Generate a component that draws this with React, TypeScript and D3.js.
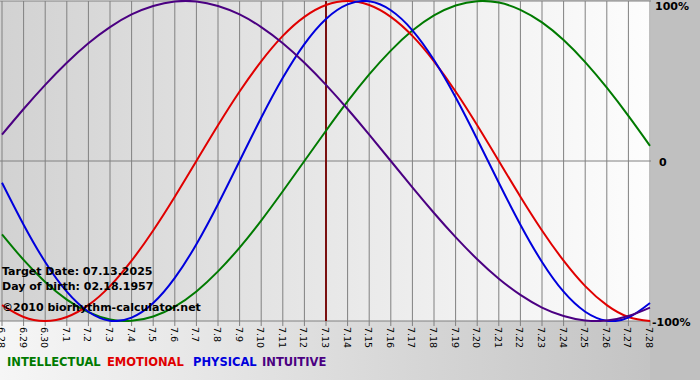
import React from "react";
import * as d3 from "d3";

const days = ["6.28","6.29","6.30","7.1","7.2","7.3","7.4","7.5","7.6","7.7","7.8","7.9","7.10","7.11","7.12","7.13","7.14","7.15","7.16","7.17","7.18","7.19","7.20","7.21","7.22","7.23","7.24","7.25","7.26","7.27","7.28"];

const physical = [-0.136,-0.398,-0.631,-0.817,-0.942,-0.998,-0.979,-0.888,-0.731,-0.520,-0.270,0,0.270,0.520,0.731,0.888,0.979,0.998,0.942,0.817,0.631,0.398,0.136,-0.136,-0.398,-0.631,-0.817,-0.942,-0.998,-0.979,-0.888];
const emotional = [-0.901,-0.975,-1,-0.975,-0.901,-0.782,-0.623,-0.434,-0.223,0,0.223,0.434,0.623,0.782,0.901,0.975,1,0.975,0.901,0.782,0.623,0.434,0.223,0,-0.223,-0.434,-0.623,-0.782,-0.901,-0.975,-1];
const intellectual = [-0.458,-0.618,-0.756,-0.866,-0.945,-0.990,-0.999,-0.972,-0.910,-0.815,-0.690,-0.541,-0.372,-0.189,0,0.189,0.372,0.541,0.690,0.815,0.910,0.972,0.999,0.990,0.945,0.866,0.756,0.618,0.458,0.282,0.095];
const intuitive = [0.165,0.325,0.476,0.614,0.736,0.837,0.916,0.969,0.997,0.997,0.969,0.916,0.837,0.736,0.614,0.476,0.325,0.165,0,-0.165,-0.325,-0.476,-0.614,-0.736,-0.837,-0.916,-0.969,-0.997,-0.997,-0.969,-0.916];

const yTicks = [1, 0, -1];
const yTickLabels = ["100%", "0", "-100%"];
const targetIndex = 15;

const series = [
  { name: "INTELLECTUAL", values: intellectual, color: "#007a00" },
  { name: "EMOTIONAL", values: emotional, color: "#e00000" },
  { name: "PHYSICAL", values: physical, color: "#0000dd" },
  { name: "INTUITIVE", values: intuitive, color: "#4b0082" },
];

const infoLines = ["Target Date: 07.13.2025", "Day of birth: 02.18.1957", "©2010 biorhythm-calculator.net"];

export default function App() {
  const W = 700, H = 380;
  const plotL = 0, plotR = 651, plotT = 1, plotB = 321;
  const x = d3.scaleLinear().domain([0, days.length - 1]).range([2, 650]);
  const y = d3.scaleLinear().domain([-1, 1]).range([plotB, plotT]);
  const line = d3.line<number>().x((_, i) => x(i)).y((d) => y(d)).curve(d3.curveNatural);
  const font = "'DejaVu Sans', Verdana, sans-serif";
  const legendX = [7, 107, 193, 262];

  return (
    <svg width={W} height={H} style={{ position: "absolute", left: 0, top: 0 }} fontFamily={font}>
      <defs>
        <linearGradient id="outer" x1="0" x2="1" y1="0" y2="0">
          <stop offset="0" stopColor="#f6f6f6" />
          <stop offset="1" stopColor="#c0c0c0" />
        </linearGradient>
        <linearGradient id="plot" x1="0" x2="1" y1="0" y2="0">
          <stop offset="0" stopColor="#d2d2d2" />
          <stop offset="1" stopColor="#fdfdfd" />
        </linearGradient>
        <clipPath id="clip">
          <rect x={plotL} y={0} width={plotR - plotL} height={plotB + 1} />
        </clipPath>
      </defs>
      <rect x={0} y={0} width={W} height={H} fill="url(#outer)" />
      <rect x={650} y={0} width={50} height={H} fill="#c0c0c0" />
      <rect x={plotL} y={plotT} width={plotR - plotL} height={plotB - plotT} fill="url(#plot)" />
      {days.map((d, i) => (
        <g key={d}>
          <line x1={x(i)} x2={x(i)} y1={plotT} y2={plotB + 5} stroke="#808080" strokeWidth={1} />
          <text transform={`translate(${x(i) - 4},${plotB + 6}) rotate(90)`} fontSize={9.5} fill="#000">
            {d}
          </text>
        </g>
      ))}
      <line x1={plotL} x2={plotR} y1={y(0)} y2={y(0)} stroke="#808080" strokeWidth={1} />
      <line x1={plotL} x2={plotR} y1={plotT} y2={plotT} stroke="#808080" strokeWidth={1} />
      <line x1={plotL} x2={plotR} y1={plotB} y2={plotB} stroke="#808080" strokeWidth={1} />
      {yTicks.map((t, i) => (
        <text key={t} x={i === 1 ? 659 : i === 0 ? 655 : 652} y={y(t) + (i === 0 ? 9 : 5)} fontSize={11} fontWeight="bold" fill="#000">
          {yTickLabels[i]}
        </text>
      ))}
      <line x1={x(targetIndex)} x2={x(targetIndex)} y1={plotT} y2={plotB} stroke="#7a1010" strokeWidth={2} />
      <g clipPath="url(#clip)">
        {series.map((s) => (
          <path key={s.name} d={line(s.values) || ""} fill="none" stroke={s.color} strokeWidth={2} />
        ))}
      </g>
      {infoLines.map((t, i) => (
        <text key={t} x={2} y={[275, 290, 311][i]} fontSize={11} fontWeight="bold" fill="#000">
          {t}
        </text>
      ))}
      {series.map((s, i) => (
        <text key={s.name} x={legendX[i]} y={366} fontSize={11.5} fontWeight="bold" fill={s.color}>
          {s.name}
        </text>
      ))}
    </svg>
  );
}
